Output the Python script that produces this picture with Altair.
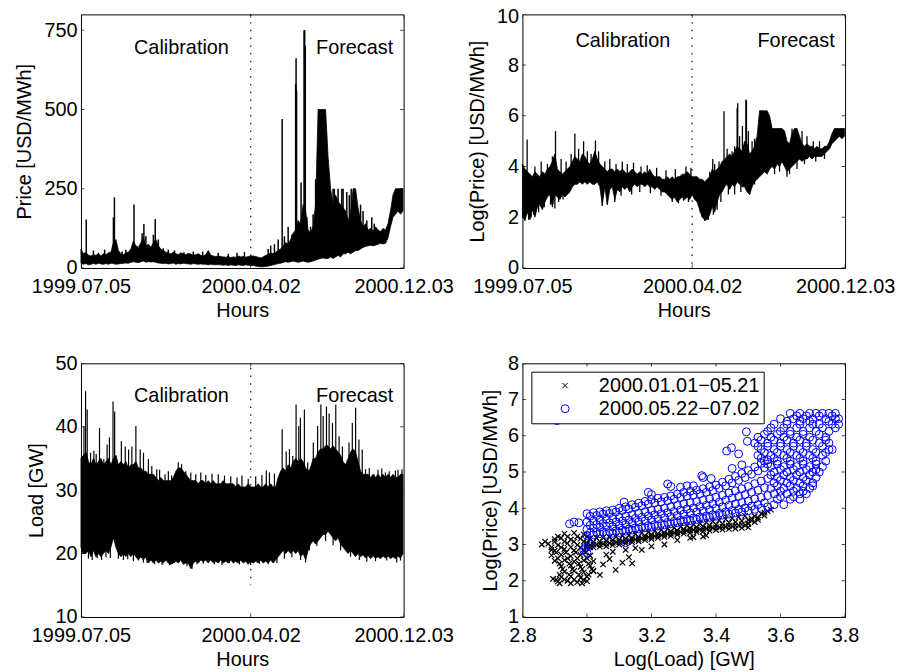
import altair as alt
import pandas as pd

FONT = "Liberation Sans"
BLUE = "#0000ff"
W, H = 325, 255.5

# ---------------- time axis ----------------
tick_days = [0, 272, 517]
tick_labels = ["1999.07.05", "2000.04.02", "2000.12.03"]
split_day = 272
ann_days = [161, 438.5]
ann_text = ["Calibration", "Forecast"]
grid_days = list(range(0, 517, 4))  # sampling positions of the envelopes (days)

# ---------------- price [USD/MWh] envelope ----------------
price_hi = [60, 45, 50, 40, 38, 42, 40, 44, 38, 46, 42, 48, 50, 80, 90, 55, 45, 42, 48, 50,
            60, 85, 70, 65, 80, 95, 70, 75, 65, 80, 90, 70, 60, 55, 50, 48, 44, 50, 45, 42,
            48, 44, 42, 46, 44, 40, 42, 45, 40, 38, 42, 55, 40, 38, 36, 38, 36, 35, 34, 36,
            33, 35, 34, 38, 35, 36, 34, 36, 38,
            38, 36, 34, 32, 35, 40, 42, 48, 45, 50, 55, 60, 70, 80, 75, 90, 110, 120, 150, 140,
            200, 180, 120, 110, 130, 200, 500, 500, 500, 500, 350, 250, 200, 230, 210, 200, 190, 180, 150, 170,
            250, 250, 190, 150, 130, 140, 120, 125, 115, 130, 120, 115, 125, 120, 140, 180, 230, 250, 250, 250,
            250]
price_lo = [15, 12, 14, 10, 12, 14, 12, 15, 13, 12, 14, 12, 15, 14, 12, 13, 14, 15, 16, 15,
            18, 20, 18, 17, 20, 22, 18, 20, 19, 20, 18, 16, 15, 14, 15, 13, 14, 16, 12, 14,
            13, 15, 14, 13, 12, 14, 13, 12, 13, 12, 12, 10, 12, 11, 10, 11, 10, 9, 10, 8,
            10, 9, 8, 10, 9, 8, 10, 9, 8,
            8, 6, 5, 4, 4, 5, 6, 8, 10, 12, 14, 15, 18, 20, 18, 20, 22, 20, 18, 20,
            22, 20, 18, 20, 22, 25, 28, 30, 32, 30, 30, 35, 30, 35, 40, 35, 45, 45, 50, 45,
            50, 55, 55, 60, 65, 68, 70, 72, 70, 72, 75, 78, 76, 78, 95, 130, 160, 170, 180, 170,
            180]
price_spike_day = [8.5, 52, 53.6, 85, 98, 100.8, 104, 116, 119, 124,
                   304, 322.4, 344, 344.7, 345.5, 352.7, 357.5, 358.5, 359.5,
                   20, 28, 38, 66, 72, 132, 140, 150, 165, 180, 195, 220, 236, 250, 262,
                   300, 310, 316, 326, 332, 338, 362, 368, 372, 376, 426, 430, 448, 452, 458, 466, 470,
                   404, 406, 412, 418, 420, 433, 438]
price_spike_tip = [153, 160, 223, 200, 110, 139, 100, 105, 155, 90,
                   71, 470, 580, 662, 560, 270, 750, 750, 700,
                   55, 48, 58, 52, 58, 62, 58, 55, 50, 52, 52, 48, 45, 48, 50,
                   60, 75, 90, 100, 130, 105, 160, 130, 170, 280, 240, 230, 200, 180, 150, 160, 140,
                   250, 250, 250, 250, 250, 250, 250]
price_spike_base = [30, 40, 40, 50, 50, 50, 50, 50, 50, 50,
                    30, 40, 60, 60, 60, 60, 80, 80, 80,
                    30, 30, 30, 30, 30, 40, 40, 35, 30, 30, 30, 30, 30, 25, 25,
                    20, 25, 30, 40, 40, 40, 60, 60, 60, 60, 80, 80, 80, 90, 90, 90, 90,
                    60, 60, 60, 60, 60, 60, 60]

# ---------------- log(price) envelope ----------------
logp_hi = [4.1, 3.9, 3.8, 3.7, 3.6, 3.8, 3.7, 3.6, 3.8, 3.7, 3.9, 4.0, 4.2, 4.5, 3.9, 3.8, 3.7, 3.8, 3.9, 4.0,
           4.2, 4.4, 4.3, 4.2, 4.5, 4.4, 4.2, 4.1, 4.3, 4.6, 4.3, 4.1, 4.0, 3.9, 3.8, 3.9, 3.9, 3.8, 3.9, 3.8,
           3.9, 3.8, 3.7, 3.8, 3.9, 3.8, 3.7, 3.8, 3.7, 3.8, 3.7, 3.9, 3.7, 3.6, 3.6, 3.6, 3.5, 3.5, 3.6, 3.5,
           3.6, 3.5, 3.6, 3.6, 3.7, 3.7, 3.8, 3.7, 3.6,
           3.6, 3.6, 3.5, 3.5, 3.4, 3.5, 3.6, 3.9, 3.8, 3.9, 4.0, 4.2, 4.3, 4.4, 4.5, 4.4, 4.6, 4.8, 4.7, 4.6,
           5.0, 4.9, 4.5, 4.6, 4.8, 5.2, 6.2, 6.2, 6.2, 6.2, 6.0, 5.5, 5.5, 5.5, 5.5, 5.5, 5.4, 5.0, 4.9, 5.3,
           5.5, 5.5, 5.2, 4.9, 4.8, 4.9, 4.8, 4.8, 4.7, 4.8, 4.7, 4.7, 4.8, 4.8, 5.0, 5.3, 5.5, 5.5, 5.5, 5.5,
           5.5]
logp_lo = [2.0, 1.9, 2.2, 1.9, 2.3, 2.0, 2.4, 2.5, 2.3, 2.6, 2.8, 2.9, 2.4, 2.9, 2.8, 2.7, 2.9, 2.8, 2.9, 3.0,
           3.2, 3.3, 3.3, 3.4, 3.3, 3.4, 3.3, 3.4, 3.3, 3.3, 3.4, 3.2, 2.5, 3.2, 2.5, 3.1, 3.2, 2.7, 3.1, 3.0,
           3.2, 3.1, 3.2, 3.0, 3.2, 3.3, 3.2, 3.3, 3.3, 3.2, 3.3, 3.2, 3.2, 3.1, 3.2, 3.1, 3.0, 3.0, 2.9, 2.8,
           2.7, 2.8, 2.6, 2.7, 2.8, 2.7, 2.8, 2.7, 2.9,
           2.7, 2.6, 2.3, 2.0, 1.9, 1.9, 2.1, 2.4, 2.2, 2.6, 2.9, 3.0, 3.2, 3.3, 3.1, 3.3, 3.2, 3.4, 3.3, 3.2,
           3.2, 3.0, 2.9, 3.2, 3.4, 3.5, 3.6, 3.7, 3.8, 3.7, 3.9, 4.0, 3.9, 4.1, 4.0, 4.2, 4.0, 3.8, 3.9, 4.0,
           4.1, 4.2, 4.3, 4.2, 4.3, 4.3, 4.4, 4.3, 4.4, 4.4, 4.4, 4.4, 4.5, 4.6, 4.7, 4.9, 5.0, 5.1, 5.2, 5.1,
           5.2]
logp_spike_day = [7.5, 53, 84, 98, 117, 305, 323, 344, 345, 352.5, 358, 359,
                  20, 30, 40, 48, 62, 70, 78, 90, 104, 110, 122, 132, 140, 150, 160, 168, 178, 190,
                  200, 215, 230, 245, 262, 270,
                  4, 10, 14, 18, 26, 35, 45, 52, 58, 65, 128, 136, 148, 158, 175, 188, 205, 222,
                  240, 250, 258, 266,
                  285, 292, 298, 306, 312, 318, 330, 340, 350, 364, 372, 404, 412, 424, 428, 440,
                  452, 470, 484,
                  300, 308, 315, 328, 336, 340, 348, 362, 368, 372, 432, 448, 456, 466, 476]
logp_spike_tip = [5.07, 5.4, 5.3, 5.0, 5.03, 4.3, 6.18, 6.3, 6.5, 5.6, 6.64, 6.6,
                  4.0, 4.2, 4.1, 4.4, 4.3, 4.2, 4.5, 4.7, 4.6, 4.5, 4.6, 4.2, 4.3, 4.1, 4.2, 4.1, 4.15, 4.0,
                  4.05, 3.95, 3.85, 3.9, 4.0, 3.95,
                  1.85, 1.9, 2.0, 2.1, 2.2, 2.4, 2.5, 2.35, 2.6, 2.7, 2.45, 2.5, 2.6, 2.85, 2.9, 3.0, 2.95, 2.85,
                  2.6, 2.55, 2.65, 2.6,
                  2.2, 1.85, 1.9, 2.1, 2.3, 2.6, 2.9, 2.9, 3.0, 2.9, 3.3, 3.7, 3.8, 3.6, 3.7, 3.9,
                  4.1, 4.2, 4.3,
                  3.8, 4.1, 4.2, 4.7, 4.6, 4.8, 5.2, 5.4, 5.0, 5.1, 5.5, 5.4, 5.2, 5.0, 5.0]
logp_spike_base = [3.8, 4.0, 4.0, 4.0, 4.0, 3.6, 4.2, 4.5, 4.5, 4.5, 4.8, 4.8,
                   3.4, 3.4, 3.4, 3.6, 3.5, 3.5, 3.6, 3.8, 3.8, 3.8, 3.8, 3.6, 3.6, 3.5, 3.5, 3.5, 3.5, 3.5,
                   3.5, 3.4, 3.3, 3.3, 3.3, 3.3,
                   3.0, 3.0, 3.0, 3.0, 3.0, 3.0, 3.2, 3.2, 3.3, 3.3, 3.4, 3.4, 3.4, 3.4, 3.4, 3.4, 3.4, 3.3,
                   3.2, 3.2, 3.2, 3.2,
                   3.0, 3.0, 3.0, 3.0, 3.2, 3.4, 3.6, 3.6, 3.8, 3.8, 4.0, 4.5, 4.5, 4.4, 4.4, 4.5,
                   4.5, 4.5, 4.6,
                   3.2, 3.4, 3.6, 4.0, 4.0, 4.0, 4.2, 4.2, 4.2, 4.2, 4.8, 4.6, 4.6, 4.5, 4.5]

# ---------------- load [GW] envelope ----------------
load_hi = [35, 35.5, 36, 34.5, 34, 35, 34, 34.5, 35, 34,
           34.5, 35, 34, 35, 35.5, 34, 34.5, 34, 34.5, 33.5,
           34, 34, 34.5, 33.5, 33.5, 33, 33, 32.5, 32.5, 32.5,
           32, 31.5, 32, 31.5, 31.5, 31.5, 31.5, 32, 33, 33.5,
           33.5, 33, 32.5, 32, 31.5, 31.5, 31.5, 31, 31.5, 31.5,
           31, 31.5, 31, 31.5, 31, 31, 31, 31.5, 31, 31,
           31, 31, 30.5, 31, 30.5, 30.5, 30.5, 31, 30.5, 30.5,
           30.5, 31, 30.5, 30.5, 31, 30.5, 31, 30.5, 30.5, 32,
           33, 33.5, 33, 34, 33.5, 34.5, 35, 34.5, 35, 34.5,
           33.5, 33, 33.5, 35, 35, 36, 36.5, 36.5, 37, 37,
           36.5, 37, 36.5, 36, 35.5, 34.5, 34, 35, 36, 36.5,
           36, 34.5, 33, 32.5, 32.5, 32.5, 32, 32.5, 32, 32.5,
           32, 32.5, 32, 32.5, 32, 32.5, 32, 32, 32.5, 32.5]
load_lo = [21, 20, 20, 20.5, 19.5, 20.5, 19.5, 20, 19.5, 20,
           20.5, 20, 21, 22.5, 21, 20, 19.5, 20, 19.5, 20,
           19.5, 20, 19.5, 19, 19.5, 19, 19.5, 18.5, 19, 18.5,
           19, 18.5, 18.8, 18.5, 19, 18.5, 18.3, 18.5, 18.8, 18.5,
           19, 18.3, 18.5, 18.5, 17.6, 18.5, 18.8, 18.5, 19, 18.7,
           19, 18.5, 19, 18.5, 18.8, 18.5, 19, 18.5, 18.8, 18.5,
           19, 18.5, 18.8, 18.5, 19, 18.5, 18.8, 18.3, 18.8, 18.5,
           18.8, 18.5, 19, 18.5, 18.8, 18.5, 19, 18.5, 19, 19.5,
           20, 20.5, 20, 20.5, 20, 20.5, 20, 20.5, 19.5, 20,
           19, 20.5, 21.5, 22, 21.5, 22, 22.5, 23, 23, 23.5,
           23, 22.5, 22, 22.5, 21.5, 21, 20.5, 20, 20.5, 20,
           19.5, 20, 19.5, 19.8, 19.3, 19.7, 19.2, 19.6, 19.3, 19.5,
           19.2, 19.6, 19.3, 19.6, 19.2, 19.5, 19.2, 19.6, 19.3, 20]
load_spike_day = [4.8, 7.4, 10, 15.4, 20.7, 24.4, 29.7, 36.6, 41.9, 45.6,
                  51.4, 54, 64.7, 71, 76.3, 81.6, 88, 94.9, 100.2, 108,
                  113.5, 121.4, 126, 134.7, 140, 145.3, 155.9, 161.2, 168, 176,
                  184, 192, 200, 210, 220, 230, 240, 250, 258, 268,
                  280, 290, 297, 302, 310, 322.4, 328.9, 334.1, 339.4, 344.7,
                  349, 351.6, 358, 363.3, 368.6, 372.3, 379.2, 384.4, 388.1, 393.4,
                  397.7, 403, 408.3, 413.6, 418.9, 429.5, 434.8, 440.1, 445.4, 450.7,
                  456, 462, 469.3, 476, 482, 487.9, 494, 503.8, 508, 514.4]
load_spike_tip = [40.1, 45.6, 42.7, 35.9, 36.2, 35.7, 39.8, 34.9, 37.2, 38.3,
                  44.0, 42.4, 37.7, 36.9, 36.4, 36.9, 40.1, 36.4, 35.9, 34.9,
                  33.8, 33.3, 33.2, 32.5, 33.0, 32.3, 34.4, 34.1, 33.0, 32.8,
                  32.5, 32.8, 32.4, 32.6, 32.5, 32.3, 32.2, 32.0, 32.3, 31.8,
                  32.2, 32.4, 33.1, 32.8, 32.6, 39.6, 36.1, 36.5, 35.4, 43.5,
                  40.1, 41.4, 42.7, 34.4, 33.8, 37.5, 40.1, 43.5, 41.7, 43.2,
                  42.1, 40.6, 43.5, 38.5, 36.9, 37.5, 40.6, 43.0, 38.0, 36.4,
                  33.3, 33.5, 32.5, 33.2, 33.4, 32.8, 33.0, 33.1, 33.2, 33.3]
load_dip_day = [3, 12, 18, 26, 33, 40, 47, 60, 68, 75, 84, 92, 100, 106, 118, 130, 142, 150, 170, 178,
                186, 196, 214, 226, 238, 254, 272, 286, 300, 314, 326, 338, 352, 360, 366, 378, 392, 404,
                416, 432, 446, 458, 472, 490, 506, 512]
load_dip_tip = [20, 19.2, 19, 19.3, 19.0, 19.4, 19.3, 19.2, 19, 19.1, 18.8, 18.9, 18.6, 18.5, 18.3, 18.2,
                18.2, 18.5, 18.0, 17.6, 18.3, 18.4, 18.3, 18.2, 18.5, 18.3, 18.2, 18.4, 18.3, 18.5, 19.2,
                19.4, 19, 18.6, 20.5, 21.2, 22.0, 21.3, 20.5, 19.5, 19.0, 18.7, 18.8, 18.9, 18.6, 18.9]
load_split_span = [15, 49.3]

# ---------------- scatter: log(load) vs log(price) ----------------
series = ["2000.01.01\u221205.21", "2000.05.22\u221207.02"]
black_x = [2.93, 2.96, 2.99, 2.90, 2.92, 2.95, 2.98, 2.86, 2.88, 2.91, 2.94, 2.97, 3.00,
           2.89, 2.90, 2.93, 2.96, 2.99, 2.89, 2.92, 2.95, 2.98, 3.01, 2.90, 2.93, 2.96, 2.99, 3.02,
           2.92, 2.95, 2.98, 3.01, 2.93, 2.96, 2.99, 3.02, 2.92, 2.95, 2.98, 3.00,
           2.91, 2.94, 2.97, 3.00, 2.895,
           2.91, 2.94, 2.97, 3.00, 2.87, 2.90, 2.93, 2.96, 2.99, 2.89, 2.92, 2.95, 2.98, 3.01,
           2.905, 2.935, 2.965, 2.995, 2.91, 2.94, 2.97, 3.00, 2.915, 2.945, 2.975, 3.005,
           2.925, 2.955, 2.985, 3.015, 2.915, 2.945, 2.975, 3.005, 2.905, 2.93, 2.96, 2.99,
           2.915, 2.95, 2.985,
           3.00, 3.02, 3.04, 3.06, 3.08, 3.10, 3.12, 3.14, 3.16, 3.18, 3.20, 3.22, 3.24,
           3.26, 3.28, 3.30, 3.32, 3.34, 3.36, 3.38, 3.40, 3.42, 3.44, 3.46, 3.48, 3.50,
           3.00, 3.02, 3.04, 3.06, 3.08, 3.10, 3.12, 3.14, 3.16, 3.18, 3.20, 3.22, 3.24,
           3.26, 3.28, 3.30, 3.32, 3.34, 3.36, 3.38, 3.40, 3.42, 3.44, 3.46, 3.48, 3.50,
           3.00, 3.02, 3.04, 3.06, 3.08, 3.10, 3.12, 3.14, 3.16, 3.18, 3.20, 3.22, 3.24,
           3.26, 3.28, 3.30, 3.32, 3.34, 3.36, 3.38, 3.40, 3.42, 3.44, 3.46, 3.48, 3.50,
           3.01, 3.03, 3.05, 3.07, 3.09, 3.11, 3.13, 3.15, 3.17, 3.19, 3.21, 3.23, 3.25,
           3.27, 3.29, 3.31, 3.33, 3.35, 3.37, 3.39, 3.41, 3.43, 3.45, 3.47, 3.49,
           3.01, 3.03, 3.05, 3.07, 3.09, 3.11, 3.13, 3.15, 3.17, 3.19, 3.21, 3.23, 3.25,
           3.27, 3.29, 3.31, 3.33, 3.35, 3.37, 3.39, 3.41, 3.43, 3.45, 3.47, 3.49,
           3.51, 3.52, 3.53, 3.54, 3.55, 3.56, 3.57, 3.52, 3.50, 3.51, 3.53, 3.55,
           3.04, 3.02, 3.05, 3.07, 3.089, 3.11, 3.13, 3.14, 3.17, 3.20, 3.24, 3.28, 3.32,
           3.36, 3.06, 3.08, 3.12, 3.15, 3.33, 3.37]
black_y = [3.30, 3.32, 3.28, 3.15, 3.18, 3.14, 3.16, 3.00, 3.02, 2.98, 3.03, 2.99, 3.02,
           2.85, 2.83, 2.87, 2.84, 2.86, 2.70, 2.72, 2.68, 2.71, 2.69, 2.55, 2.57, 2.53, 2.56, 2.54,
           2.40, 2.42, 2.38, 2.41, 2.25, 2.27, 2.23, 2.26, 2.10, 2.12, 2.08, 2.11,
           1.98, 2.00, 1.96, 1.99, 2.05,
           3.22, 3.22, 3.22, 3.22, 3.08, 3.08, 3.08, 3.08, 3.08, 2.92, 2.92, 2.92, 2.92, 2.92,
           2.78, 2.78, 2.78, 2.78, 2.62, 2.62, 2.62, 2.62, 2.47, 2.47, 2.47, 2.47,
           2.32, 2.32, 2.32, 2.32, 2.17, 2.17, 2.17, 2.17, 2.03, 2.03, 2.03, 2.03,
           1.93, 1.93, 1.93,
           2.90, 2.92, 2.94, 2.95, 2.98, 3.00, 3.03, 3.06, 3.09, 3.12, 3.15, 3.18, 3.21,
           3.24, 3.27, 3.30, 3.32, 3.34, 3.36, 3.38, 3.40, 3.41, 3.43, 3.44, 3.46, 3.47,
           3.05, 3.07, 3.08, 3.10, 3.12, 3.13, 3.16, 3.18, 3.21, 3.24, 3.27, 3.30, 3.33,
           3.36, 3.39, 3.42, 3.45, 3.47, 3.50, 3.52, 3.55, 3.57, 3.60, 3.62, 3.65, 3.67,
           2.975, 2.995, 3.01, 3.025, 3.05, 3.065, 3.095, 3.12, 3.15, 3.18, 3.21, 3.24, 3.27,
           3.30, 3.33, 3.36, 3.385, 3.405, 3.43, 3.45, 3.475, 3.49, 3.515, 3.53, 3.555, 3.57,
           2.98, 3.00, 3.02, 3.04, 3.06, 3.08, 3.11, 3.14, 3.17, 3.20, 3.23, 3.26, 3.29,
           3.32, 3.35, 3.38, 3.40, 3.42, 3.44, 3.46, 3.47, 3.49, 3.50, 3.52, 3.53,
           3.16, 3.18, 3.19, 3.20, 3.21, 3.24, 3.26, 3.29, 3.32, 3.34, 3.37, 3.40, 3.43,
           3.46, 3.49, 3.52, 3.55, 3.58, 3.61, 3.64, 3.67, 3.70, 3.73, 3.76, 3.79,
           3.72, 3.78, 3.74, 3.85, 3.80, 3.92, 3.96, 3.62, 3.58, 3.66, 3.68, 3.88,
           2.16, 2.28, 2.45, 2.60, 2.30, 2.50, 2.65, 2.48, 2.85, 2.95, 3.00, 3.12, 3.18,
           3.22, 2.72, 2.80, 2.85, 2.90, 3.20, 3.25]
blue_band_x = [3.00, 3.02, 3.04, 3.06, 3.08, 3.10, 3.12, 3.14, 3.16, 3.18, 3.20, 3.22, 3.24, 3.26, 3.28,
               3.30, 3.32, 3.34, 3.36, 3.38, 3.40, 3.42, 3.44, 3.46, 3.48, 3.50, 3.52, 3.54, 3.56,
               3.01, 3.03, 3.05, 3.07, 3.09, 3.11, 3.13, 3.15, 3.17, 3.19, 3.21, 3.23, 3.25, 3.27,
               3.29, 3.31, 3.33, 3.35, 3.37, 3.39, 3.41, 3.43, 3.45, 3.47, 3.49, 3.51, 3.53, 3.55]
blue_band_y = [[3.25, 3.42, 3.62, 3.85], [3.27, 3.45, 3.65, 3.88], [3.30, 3.47, 3.68, 3.90],
               [3.28, 3.50, 3.70, 3.93], [3.31, 3.49, 3.72, 3.95], [3.33, 3.52, 3.75, 4.00],
               [3.37, 3.55, 3.78, 4.04], [3.40, 3.58, 3.82, 4.10], [3.43, 3.62, 3.86, 4.14],
               [3.46, 3.65, 3.90, 4.19], [3.48, 3.68, 3.94, 4.24], [3.51, 3.71, 3.97, 4.28],
               [3.54, 3.74, 4.00, 4.30], [3.57, 3.77, 4.04, 4.34], [3.60, 3.80, 4.08, 4.39],
               [3.63, 3.84, 4.12, 4.44], [3.66, 3.87, 4.15, 4.47], [3.69, 3.90, 4.18, 4.50],
               [3.72, 3.93, 4.22, 4.54], [3.75, 3.96, 4.26, 4.59], [3.78, 4.00, 4.30, 4.64],
               [3.81, 4.04, 4.36, 4.72], [3.84, 4.08, 4.42, 4.80], [3.87, 4.12, 4.48, 4.88],
               [3.90, 4.16, 4.54, 4.96], [3.93, 4.20, 4.60, 5.04], [3.97, 4.26, 4.68, 5.14],
               [4.00, 4.30, 4.75, 5.24], [4.04, 4.35, 4.82, 5.34],
               [3.32, 3.53, 3.78], [3.34, 3.55, 3.80], [3.35, 3.58, 3.84], [3.36, 3.60, 3.86],
               [3.38, 3.62, 3.90], [3.40, 3.65, 3.94], [3.43, 3.68, 3.98], [3.46, 3.72, 4.03],
               [3.49, 3.75, 4.07], [3.52, 3.79, 4.12], [3.55, 3.82, 4.15], [3.58, 3.85, 4.18],
               [3.61, 3.88, 4.21], [3.64, 3.91, 4.25], [3.67, 3.95, 4.30], [3.70, 3.98, 4.34],
               [3.73, 4.01, 4.37], [3.76, 4.05, 4.40], [3.79, 4.08, 4.44], [3.82, 4.12, 4.49],
               [3.86, 4.17, 4.55], [3.90, 4.22, 4.62], [3.94, 4.28, 4.70], [3.97, 4.33, 4.77],
               [4.01, 4.38, 4.85], [4.06, 4.44, 4.94], [4.10, 4.50, 5.03], [4.15, 4.57, 5.12]]
blue_cloud_rows = [6.62, 6.55, 6.47, 6.40, 6.32, 6.22, 6.12, 6.04, 5.96, 5.88, 5.80, 5.71, 5.62, 5.54,
                   5.46, 5.38, 5.30, 5.22, 5.15, 5.07, 5.00, 4.92, 4.85, 4.77, 4.70, 4.62, 4.55, 4.47,
                   4.40, 4.32, 4.25, 4.10]
blue_cloud_x = [[3.63, 3.66, 3.69, 3.71, 3.73, 3.75, 3.77],
                [3.65, 3.68, 3.72, 3.76],
                [3.60, 3.64, 3.67, 3.70, 3.74, 3.77, 3.78],
                [3.62, 3.66, 3.69, 3.75],
                [3.58, 3.62, 3.66, 3.70, 3.72, 3.76, 3.78],
                [3.57, 3.61, 3.65, 3.69, 3.73, 3.77],
                [3.56, 3.60, 3.63, 3.67, 3.71, 3.75],
                [3.55, 3.59, 3.63, 3.67, 3.72],
                [3.53, 3.57, 3.61, 3.65, 3.69, 3.74],
                [3.54, 3.58, 3.62, 3.66, 3.70, 3.74],
                [3.52, 3.56, 3.60, 3.64, 3.68, 3.72, 3.75],
                [3.53, 3.56, 3.60, 3.64, 3.68, 3.73],
                [3.54, 3.58, 3.62, 3.66, 3.70, 3.75, 3.76],
                [3.55, 3.59, 3.63, 3.67, 3.71, 3.74],
                [3.53, 3.57, 3.61, 3.65, 3.69, 3.73],
                [3.54, 3.58, 3.62, 3.66, 3.70],
                [3.55, 3.59, 3.63, 3.67, 3.71, 3.74],
                [3.56, 3.59, 3.63, 3.67, 3.71],
                [3.57, 3.61, 3.65, 3.69, 3.73],
                [3.60, 3.64, 3.68, 3.71],
                [3.58, 3.62, 3.66, 3.70, 3.72],
                [3.57, 3.61, 3.65, 3.69],
                [3.59, 3.63, 3.67, 3.71],
                [3.60, 3.64, 3.68],
                [3.58, 3.62, 3.66, 3.70],
                [3.59, 3.63, 3.67, 3.70],
                [3.57, 3.61, 3.65, 3.69],
                [3.60, 3.64, 3.67],
                [3.58, 3.62, 3.66, 3.68],
                [3.60, 3.64],
                [3.59, 3.63, 3.66],
                [3.58, 3.61]]
blue_out_x = [2.946, 2.96, 2.975, 2.99, 3.0, 2.995, 3.01, 3.115, 3.12, 3.19, 3.2, 3.25, 3.26, 3.29,
              3.31, 3.33, 3.356, 3.36, 3.385, 3.433, 3.448, 3.45, 3.47, 3.494, 3.497, 3.48, 2.907]
blue_out_y = [3.57, 3.62, 3.60, 2.84, 2.78, 2.92, 3.0, 4.17, 3.05, 4.44, 4.38, 4.67, 4.60, 4.58,
              4.62, 4.62, 4.9, 4.85, 4.82, 5.58, 5.67, 5.1, 5.5, 6.11, 5.85, 5.2, 6.42]

assert len(price_hi) == len(price_lo) == len(grid_days)
assert len(logp_hi) == len(logp_lo) == len(grid_days)
assert len(load_hi) == len(load_lo) == len(grid_days)
assert len(price_spike_day) == len(price_spike_tip) == len(price_spike_base)
assert len(logp_spike_day) == len(logp_spike_tip) == len(logp_spike_base)
assert len(load_spike_day) == len(load_spike_tip)
assert len(load_dip_day) == len(load_dip_tip)
assert len(black_x) == len(black_y)
assert len(blue_band_x) == len(blue_band_y)
assert len(blue_cloud_rows) == len(blue_cloud_x)

# ---------------- tables ----------------
price_df = pd.DataFrame({"day": grid_days, "hi": price_hi, "lo": price_lo})
logp_df = pd.DataFrame({"day": grid_days, "hi": logp_hi, "lo": logp_lo})
load_df = pd.DataFrame({"day": grid_days, "hi": load_hi, "lo": load_lo})
price_sp = pd.DataFrame({"day": price_spike_day, "hi": price_spike_tip, "lo": price_spike_base})
logp_sp = pd.DataFrame({"day": logp_spike_day, "hi": logp_spike_tip, "lo": logp_spike_base})
load_sp = pd.DataFrame({"day": load_spike_day + load_dip_day,
                        "hi": load_spike_tip + load_dip_tip,
                        "lo": [28] * len(load_spike_day) + [24] * len(load_dip_day)})

bx, by = [], []
for x, ys in zip(blue_band_x, blue_band_y):
    for y in ys:
        bx.append(x)
        by.append(y)
for y, xs in zip(blue_cloud_rows, blue_cloud_x):
    for x in xs:
        bx.append(x)
        by.append(y)
bx += blue_out_x
by += blue_out_y
black_df = pd.DataFrame({"lx": black_x, "ly": black_y, "s": series[0]})
blue_df = pd.DataFrame({"lx": bx, "ly": by, "s": series[1]})

# ---------------- helpers ----------------
lbl = f"'{tick_labels[-1]}'"
for d, l in reversed(list(zip(tick_days[:-1], tick_labels[:-1]))):
    lbl = f"datum.value == {d} ? '{l}' : " + lbl

AX_COMMON = dict(grid=False, ticks=False, tickSize=0, domain=False, labelFlush=False,
                 labelOverlap=False)


def time_x(field):
    return alt.X(f"{field}:Q", title="Hours",
                 scale=alt.Scale(domain=[0, 517], nice=False, zero=False),
                 axis=alt.Axis(values=tick_days, labelExpr=lbl, labelPadding=9,
                               titlePadding=3.5, **AX_COMMON))


def make_y(domain, values, title, tpad, **extra):
    def f(field):
        return alt.Y(f"{field}:Q", title=title,
                     scale=alt.Scale(domain=domain, nice=False, zero=False),
                     axis=alt.Axis(values=values, labelPadding=4, titlePadding=tpad, **AX_COMMON, **extra))
    return f


def inner_ticks(xenc, yenc, xvals, yvals):
    xt = pd.DataFrame({"t": xvals})
    yt = pd.DataFrame({"t": yvals})
    tk = dict(size=7, thickness=1, color="black", clip=True)
    return [
        alt.Chart(xt).mark_tick(orient="vertical", **tk).encode(x=xenc("t"), y=alt.value(H)),
        alt.Chart(xt).mark_tick(orient="vertical", **tk).encode(x=xenc("t"), y=alt.value(0)),
        alt.Chart(yt).mark_tick(orient="horizontal", **tk).encode(y=yenc("t"), x=alt.value(0)),
        alt.Chart(yt).mark_tick(orient="horizontal", **tk).encode(y=yenc("t"), x=alt.value(W)),
    ]


def ts_panel(df, sp, yenc, yvals, ann_y, split_span, spike_w):
    if split_span is None:
        split = alt.Chart(pd.DataFrame({"day": [split_day]})).mark_rule(
            color=BLUE, strokeDash=[1.5, 6.3], strokeWidth=1.3).encode(x=time_x("day"))
    else:
        split = alt.Chart(pd.DataFrame({"day": [split_day], "a": [split_span[0]], "b": [split_span[1]]})).mark_rule(
            color=BLUE, strokeDash=[1.5, 6.3], strokeWidth=1.3).encode(
            x=time_x("day"), y=yenc("b"), y2="a:Q")
    band = alt.Chart(df).mark_area(color="black", stroke="black", strokeWidth=0.8).encode(
        x=time_x("day"), y=yenc("hi"), y2="lo:Q")
    spikes = alt.Chart(sp).mark_rule(color="black", strokeWidth=spike_w).encode(
        x=time_x("day"), y=yenc("hi"), y2="lo:Q")
    ann = alt.Chart(pd.DataFrame({"day": ann_days, "v": [ann_y] * 2, "label": ann_text})).mark_text(
        font=FONT, fontSize=20, baseline="alphabetic", align="center", color="black").encode(
        x=time_x("day"), y=yenc("v"), text="label:N")
    layers = [split, band, spikes, ann] + inner_ticks(time_x, yenc, tick_days, yvals)
    return alt.layer(*layers).properties(width=W, height=H)


y1 = make_y([0, 800], [0, 250, 500, 750], "Price [USD/MWh]", 9)
y2 = make_y([0, 10], [0, 2, 4, 6, 8, 10], "Log(Price) [USD/MWh]", 9,
            labelOffset={"condition": {"test": "datum.value == 10", "value": 2.5}, "value": 0})
y3 = make_y([10, 50], [10, 20, 30, 40, 50], "Load [GW]", 8)
y4 = make_y([1, 8], [1, 2, 3, 4, 5, 6, 7, 8], "Log(Price) [USD/MWh]", 7)

p1 = ts_panel(price_df, price_sp, y1, [0, 250, 500, 750], 676, None, 1.5)
p2 = ts_panel(logp_df, logp_sp, y2, [0, 2, 4, 6, 8, 10], 8.73, None, 1.3)
p3 = ts_panel(load_df, load_sp, y3, [10, 20, 30, 40, 50], 43.85, load_split_span, 1.2)

lx_vals = [2.8, 3.0, 3.2, 3.4, 3.6, 3.8]


def load_x(field):
    return alt.X(f"{field}:Q", title="Log(Load) [GW]",
                 scale=alt.Scale(domain=[2.8, 3.8], nice=False, zero=False),
                 axis=alt.Axis(values=lx_vals, format="~g", labelPadding=9, titlePadding=3.5, **AX_COMMON))


leg = alt.Legend(orient="none", legendX=9, legendY=8.4, title=None, strokeColor="black",
                 fillColor="white", padding=4, labelFont=FONT, labelFontSize=20, labelColor="black",
                 labelLimit=400, rowPadding=3.3, symbolOffset=20, labelOffset=24, symbolStrokeWidth=1,
                 labelExpr="datum.label + '\u00a0\u00a0\u00a0'")
enc_common = dict(
    color=alt.Color("s:N", scale=alt.Scale(domain=series, range=["black", BLUE]), legend=leg),
    shape=alt.Shape("s:N", scale=alt.Scale(domain=series, range=["M-1,-1L1,1M-1,1L1,-1", "circle"]), legend=leg),
    size=alt.Size("s:N", scale=alt.Scale(domain=series, range=[30, 64]), legend=leg),
)
pts_black = alt.Chart(black_df).mark_point(filled=False, strokeWidth=1.2, opacity=1).encode(
    x=load_x("lx"), y=y4("ly"), **enc_common)
pts_blue = alt.Chart(blue_df).mark_point(filled=False, strokeWidth=1, opacity=1).encode(
    x=load_x("lx"), y=y4("ly"), **enc_common)
p4 = alt.layer(pts_black, pts_blue, *inner_ticks(load_x, y4, lx_vals, [1, 2, 3, 4, 5, 6, 7, 8])).properties(
    width=W, height=H)

chart = alt.concat(p1, p2, p3, p4, columns=2, spacing={"row": 95.5, "column": 119.7},
                   bounds="flush").resolve_scale(
    color="independent", shape="independent", size="independent"
).properties(
    padding={"left": 6.5, "top": -4.0, "right": 0, "bottom": 0}
).configure(font=FONT, background="white").configure_axis(
    labelFont=FONT, titleFont=FONT, labelFontSize=20, titleFontSize=20, titleFontWeight="normal",
    labelColor="black", titleColor="black"
).configure_view(stroke="black", strokeWidth=1)

chart.save("out.html", embed_options={"renderer": "svg", "actions": False})
